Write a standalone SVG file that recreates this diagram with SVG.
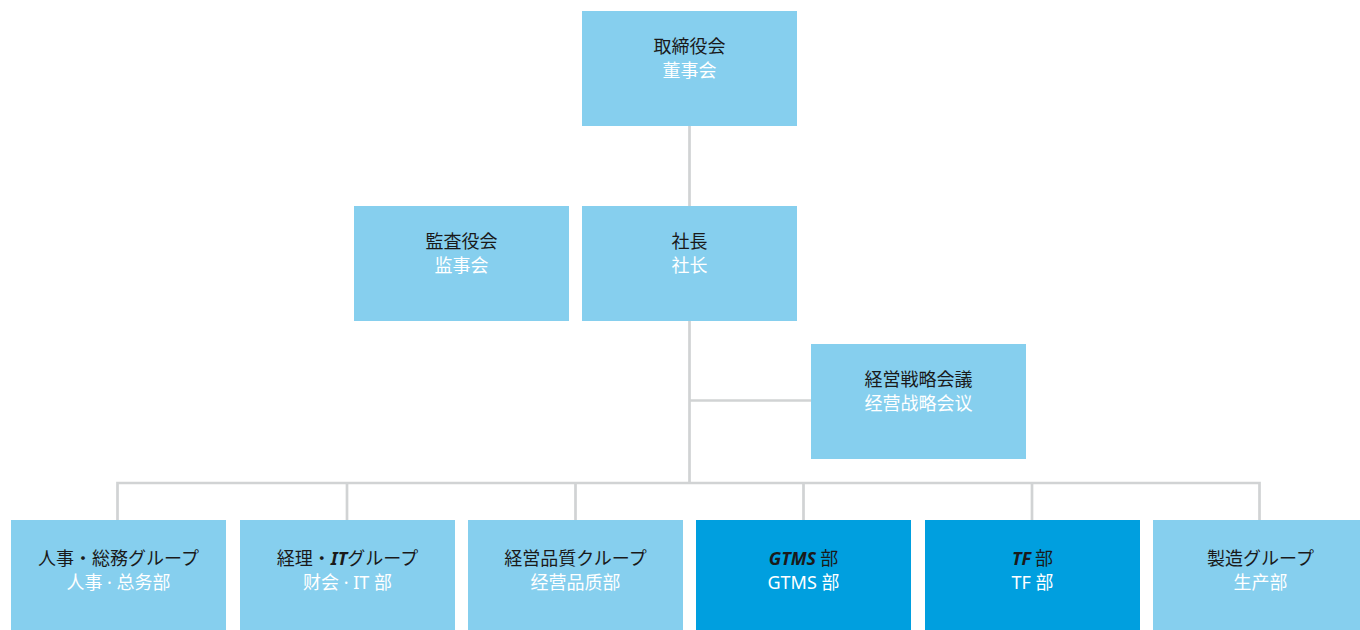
<svg xmlns="http://www.w3.org/2000/svg" width="1360" height="630" viewBox="0 0 1360 630">
<style>
.lb{fill:#86cfee}
.db{fill:#009fdf}
.t1{font-family:"Noto Sans CJK JP","Noto Sans",sans-serif;font-size:18px;fill:#1a1a1a;text-anchor:middle}
.t2{font-family:"Noto Sans CJK SC","Noto Sans",sans-serif;font-size:18px;fill:#ffffff;text-anchor:middle}
.it{font-style:italic;font-weight:bold;font-family:"Noto Sans","Liberation Sans",sans-serif}
.la{font-family:"Noto Sans","Liberation Sans",sans-serif}
.ln{fill:none;stroke:#d1d3d4;stroke-width:2.7}
</style>
<rect width="1360" height="630" fill="#ffffff"/>
<g id="connectors">
<path class="ln" d="M689.5 126V206M689.5 321V483M689.5 400.5H811"/>
<path class="ln" d="M117.5 520V483H1259.5V520M347 483V520M575.5 483V520M803.5 483V520M1032 483V520"/>
</g>
<g id="board">
<rect class="lb" x="582" y="11" width="215" height="115"/>
<text class="t1" x="689.5" y="52.5">取締役会</text>
<text class="t2" x="689.5" y="77">董事会</text>
</g>
<g id="auditors">
<rect class="lb" x="354" y="206" width="215" height="115"/>
<text class="t1" x="461.5" y="247.5">監査役会</text>
<text class="t2" x="461.5" y="272">监事会</text>
</g>
<g id="president">
<rect class="lb" x="582" y="206" width="215" height="115"/>
<text class="t1" x="689.5" y="247.5">社長</text>
<text class="t2" x="689.5" y="272">社长</text>
</g>
<g id="strategy">
<rect class="lb" x="811" y="344" width="215" height="115"/>
<text class="t1" x="918.5" y="385.5">経営戦略会議</text>
<text class="t2" x="918.5" y="410">经营战略会议</text>
</g>
<g id="hr">
<rect class="lb" x="11" y="520" width="215" height="115"/>
<text class="t1" x="118.5" y="565">人事・総務グループ</text>
<text class="t2" x="118.5" y="589">人事<tspan class="la"> · </tspan>总务部</text>
</g>
<g id="finance">
<rect class="lb" x="240" y="520" width="215" height="115"/>
<text class="t1" x="347.5" y="565">経理・<tspan class="it">IT</tspan>グループ</text>
<text class="t2" x="347.5" y="589">财会<tspan class="la"> · IT </tspan>部</text>
</g>
<g id="quality">
<rect class="lb" x="468" y="520" width="215" height="115"/>
<text class="t1" x="575.5" y="565">経営品質クループ</text>
<text class="t2" x="575.5" y="589">经营品质部</text>
</g>
<g id="gtms">
<rect class="db" x="696" y="520" width="215" height="115"/>
<text class="t1" x="803.5" y="565"><tspan class="it">GTMS</tspan> 部</text>
<text class="t2" x="803.5" y="589"><tspan class="la">GTMS </tspan>部</text>
</g>
<g id="tf">
<rect class="db" x="925" y="520" width="215" height="115"/>
<text class="t1" x="1032.5" y="565"><tspan class="it">TF</tspan> 部</text>
<text class="t2" x="1032.5" y="589"><tspan class="la">TF </tspan>部</text>
</g>
<g id="manufacturing">
<rect class="lb" x="1153" y="520" width="215" height="115"/>
<text class="t1" x="1260.5" y="565">製造グループ</text>
<text class="t2" x="1260.5" y="589">生产部</text>
</g>
</svg>
